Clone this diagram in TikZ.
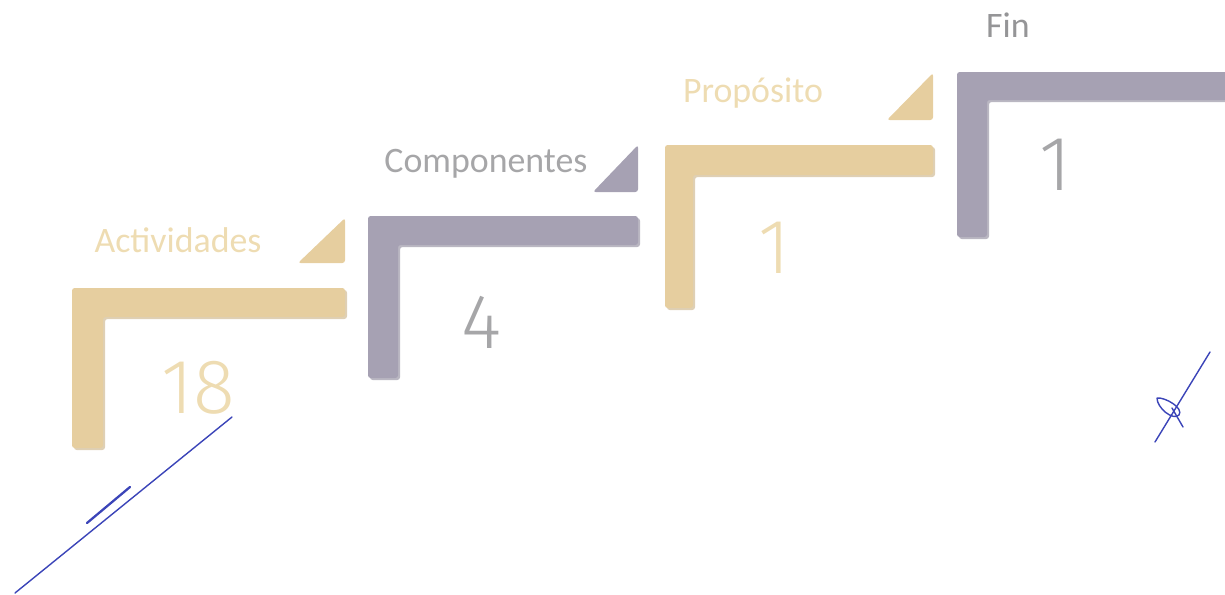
\documentclass[tikz,border=0pt]{standalone}
\usepackage{fontspec}
\setmainfont{Carlito}
\newfontfamily\countfont{Fira Sans Light}
\usepackage{tikz}
\usetikzlibrary{positioning}
\definecolor{Tan}{HTML}{E6CE9F}
\definecolor{TanDark}{HTML}{C9B184}
\definecolor{TanText}{HTML}{EEDCB2}
\definecolor{Lilac}{HTML}{A6A1B3}
\definecolor{LilacDark}{HTML}{8C8799}
\definecolor{GreyText}{HTML}{A6A6A8}
\definecolor{Ink}{HTML}{3B44B8}
\tikzset{
  stair/.style={rounded corners=1.5pt},
  shade/.style={stair,opacity=0.6},
  steplabel/.style={font=\fontsize{20.4}{24}\selectfont,anchor=base,inner sep=0pt},
  stepcount/.style={font=\countfont\fontsize{44}{52}\selectfont,anchor=base,inner sep=0pt},
  sign/.style={draw=Ink,line width=0.8pt,line cap=round}
}
\begin{document}
\begin{tikzpicture}[x=0.02cm,y=-0.02cm]
  \useasboundingbox (0,0) rectangle (1225,595);
  % step 1: Actividades
  \fill[shade,TanDark] (74,290) -- (347,290) -- (347,319) -- (105,319) -- (105,450) -- (74,450) -- cycle;
  \fill[stair,Tan] (72,288) -- (345,288) -- (345,317) -- (103,317) -- (103,448) -- (72,448) -- cycle;
  \fill[stair,Tan] (345,218) -- (345,263) -- (298,263) -- cycle;
  % step 2: Componentes
  \fill[shade,LilacDark] (370,218) -- (640,218) -- (640,247) -- (400,247) -- (400,380) -- (370,380) -- cycle;
  \fill[stair,Lilac] (368,216) -- (638,216) -- (638,245) -- (398,245) -- (398,378) -- (368,378) -- cycle;
  \fill[stair,Lilac] (638,145) -- (638,192) -- (593,192) -- cycle;
  % step 3: Proposito
  \fill[shade,TanDark] (667,147) -- (935,147) -- (935,177) -- (695,177) -- (695,310) -- (667,310) -- cycle;
  \fill[stair,Tan] (665,145) -- (933,145) -- (933,175) -- (693,175) -- (693,308) -- (665,308) -- cycle;
  \fill[stair,Tan] (933,73) -- (933,120) -- (887,120) -- cycle;
  % step 4: Fin
  \fill[shade,LilacDark] (959,74) -- (1230,74) -- (1230,102) -- (989,102) -- (989,239) -- (959,239) -- cycle;
  \fill[stair,Lilac] (957,72) -- (1230,72) -- (1230,100) -- (987,100) -- (987,237) -- (957,237) -- cycle;
  % labels and counts
  \node[steplabel,text=TanText] (actlabel) at (178,252) {Actividades};
  \node[stepcount,text=TanText] (actcount) at (198,413) {18};
  \node[steplabel,text=GreyText] (complabel) at (486,172) {Componentes};
  \node[stepcount,text=GreyText] (compcount) at (482,348) {4};
  \node[steplabel,text=TanText] (proplabel) at (753,102) {Propósito};
  \node[stepcount,text=TanText] (propcount) at (774,273) {1};
  \node[steplabel,text=GreyText!90!black] (finlabel) at (1008,37) {Fin};
  \node[stepcount,text=GreyText] (fincount) at (1055,190) {1};
  % signatures
  \draw[sign] (232,417) -- (15,593);
  \draw[sign,line width=1.3pt] (87,523) -- (130,487);
  \draw[sign] (1210,352) -- (1155,442);
  \draw[sign] (1157,398) .. controls (1165,397) and (1184,408) .. (1179,415) .. controls (1173,421) and (1157,408) .. (1157,398);
  \draw[sign] (1172,408) -- (1183,427);
\end{tikzpicture}
\end{document}
